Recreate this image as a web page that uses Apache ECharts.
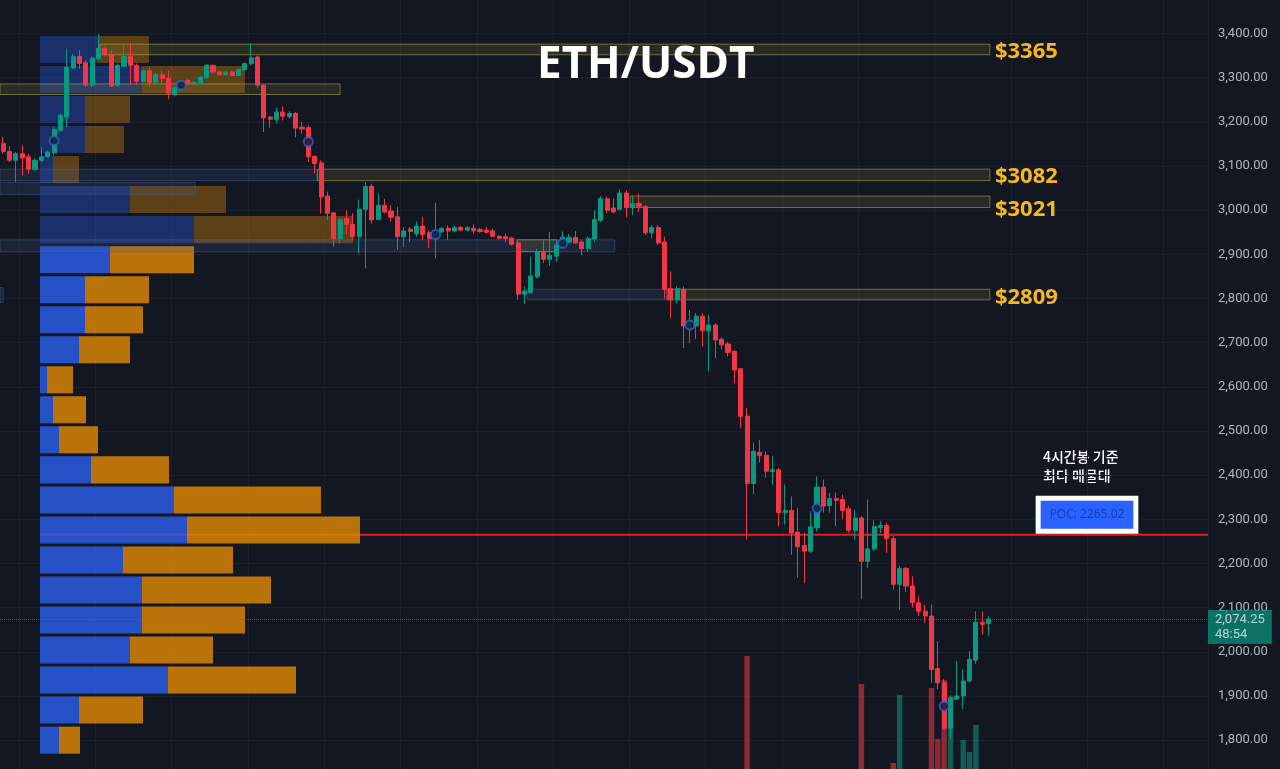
<!DOCTYPE html>
<html>
<head>
<meta charset="utf-8">
<title>ETH/USDT</title>
<script src="https://cdn.jsdelivr.net/npm/echarts@6.0.0/dist/echarts.min.js"></script>
<style>
  html, body { margin: 0; padding: 0; background: #131722; }
  #chart { width: 1280px; height: 769px; }
</style>
</head>
<body>
<div id="chart"></div>
<script>
// ---- data ----
var pair = 'ETH/USDT'
var slotCount = 190 // bar slots on screen (incl. empty space on the right)

// [open, close, low, high]
var candles = [
  [3151,3133,3128,3166],[3133,3113,3109,3145],[3113,3128,3064,3132],[3128,3118,3079,3147],[3121,3093,3082,3128],
  [3092,3113,3090,3118],[3113,3121,3109,3143],[3121,3132,3119,3135],[3130,3183,3124,3188],[3181,3215,3177,3219],
  [3211,3324,3188,3366],[3322,3348,3320,3354],[3348,3332,3320,3362],[3334,3283,3279,3339],[3283,3344,3279,3348],
  [3343,3366,3339,3399],[3366,3352,3348,3369],[3352,3281,3279,3362],[3283,3328,3280,3332],[3326,3348,3324,3377],
  [3348,3328,3283,3380],[3328,3292,3283,3332],[3292,3316,3289,3321],[3316,3290,3279,3324],[3290,3307,3287,3312],
  [3307,3298,3286,3316],[3299,3265,3252,3316],[3262,3277,3258,3280],[3276,3287,3270,3290],[3294,3286,3283,3298],
  [3286,3290,3284,3292],[3288,3301,3285,3304],[3300,3328,3298,3331],[3328,3313,3310,3330],[3313,3307,3305,3315],
  [3307,3313,3305,3316],[3313,3305,3303,3316],[3305,3319,3303,3321],[3318,3332,3316,3334],[3332,3345,3328,3378],
  [3347,3283,3276,3350],[3283,3209,3177,3285],[3211,3206,3187,3213],[3205,3222,3196,3232],[3222,3213,3203,3235],
  [3212,3219,3208,3224],[3219,3186,3165,3222],[3188,3184,3173,3200],[3187,3121,3109,3192],[3122,3106,3083,3124],
  [3107,3030,2993,3113],[3032,2993,2978,3042],[2994,2936,2917,2996],[2936,2979,2925,2982],[2981,2968,2947,3000],
  [2968,2940,2932,2993],[2940,3002,2902,3024],[3002,3054,2868,3064],[3054,2978,2970,3060],[2979,3011,2977,3038],
  [3011,2996,2993,3026],[2998,2984,2974,3011],[2985,2940,2910,3008],[2940,2953,2917,2962],[2957,2952,2928,2962],
  [2947,2964,2940,2974],[2964,2945,2932,2985],[2949,2936,2914,2955],[2940,2950,2891,3017],[2951,2959,2948,2962],
  [2959,2953,2932,2966],[2953,2961,2950,2965],[2961,2955,2952,2964],[2955,2961,2952,2964],[2959,2953,2947,2968],
  [2956,2952,2949,2960],[2955,2950,2947,2962],[2953,2941,2940,2958],[2941,2936,2934,2943],[2940,2936,2928,2947],
  [2937,2923,2920,2940],[2926,2810,2797,2932],[2810,2817,2788,2827],[2813,2851,2812,2895],[2849,2905,2846,2913],
  [2904,2889,2880,2932],[2889,2898,2874,2951],[2896,2921,2883,2932],[2921,2939,2916,2952],[2928,2938,2925,2946],
  [2938,2926,2925,2953],[2928,2913,2898,2932],[2913,2936,2906,2941],[2935,2979,2928,3000],[2977,3026,2973,3032],
  [3026,3000,2993,3031],[3005,2996,2993,3026],[3002,3039,3000,3047],[3039,3006,2984,3045],[3008,3015,2989,3034],
  [3015,3009,2996,3038],[3008,2949,2944,3011],[2949,2961,2936,2966],[2961,2926,2921,2966],[2928,2821,2800,2940],
  [2823,2797,2755,2861],[2797,2823,2789,2828],[2821,2738,2688,2827],[2733,2747,2699,2774],[2738,2760,2708,2767],
  [2760,2727,2691,2767],[2727,2740,2635,2763],[2740,2706,2665,2744],[2708,2695,2685,2712],[2697,2678,2669,2702],
  [2680,2638,2608,2684],[2641,2533,2507,2642],[2534,2381,2254,2552],[2381,2454,2356,2474],[2452,2444,2428,2480],
  [2445,2409,2394,2454],[2408,2412,2378,2443],[2412,2315,2284,2416],[2315,2320,2288,2379],[2320,2269,2220,2352],
  [2271,2238,2168,2326],[2241,2228,2156,2269],[2228,2283,2224,2318],[2281,2373,2273,2397],[2373,2330,2315,2390],
  [2331,2347,2315,2360],[2347,2343,2284,2361],[2345,2320,2300,2356],[2324,2275,2269,2330],[2275,2303,2254,2322],
  [2303,2205,2119,2307],[2205,2233,2190,2345],[2233,2284,2228,2299],[2281,2286,2269,2296],[2286,2256,2224,2293],
  [2256,2153,2141,2262],[2153,2189,2095,2194],[2189,2149,2135,2192],[2149,2111,2100,2171],[2111,2092,2081,2126],
  [2092,2081,2066,2107],[2081,1960,1930,2107],[1962,1930,1915,2024],[1930,1827,1824,1938],[1827,1897,1802,1902],
  [1893,1900,1891,1979],[1900,1934,1870,1960],[1934,1983,1930,2002],[1981,2067,1972,2092],[2067,2062,2039,2092],
  [2064,2074.25,2036,2081]
]

// volume (K)
var volumes = [
  45,40,52,38,55,42,35,40,70,66,
  110,60,48,75,72,58,44,80,62,50,
  70,55,40,52,38,35,60,42,38,30,
  28,32,50,40,30,28,30,35,40,45,
  88,105,50,45,38,36,62,40,75,48,
  112,80,95,70,50,55,85,100,92,60,
  40,42,70,38,30,34,40,44,55,30,
  28,26,24,25,26,24,26,30,28,27,
  34,118,60,70,82,50,48,45,40,38,
  36,42,40,72,85,56,38,66,60,42,
  38,78,40,62,120,96,55,110,70,62,
  75,90,66,48,55,95,125,244,118,80,
  72,60,112,70,98,92,76,100,110,80,
  56,50,64,85,70,216,96,88,52,84,
  137,205,90,80,74,68,212,161,220,202,
  120,160,148,175,60,40
]

// signal circles
var signalIdx = [8, 28, 48, 68, 88, 108, 128, 148]
var signalPrice = [3157, 3283, 3155, 2945, 2925, 2740, 2325, 1877]

// volume profile (rows from bottom), up = blue, down = orange
var vpBinStart = 1766
var vpBinSize = 68
var vpUp =   [19,39,128,90,102,102,83,147,134,51,19,13,7,39,45,45,70,154,90,13,45,45,102,58]
var vpDown = [21,64,128,83,103,129,110,173,147,78,39,33,26,51,58,64,84,159,96,26,39,45,103,51]
var vpValueAreaTop = 16 // rows above this are outside the value area
var pocPrice = 2265.02

var lastPrice = 2074.25
var barCountdown = '48:54'

// zones: bar index from/to, price low/high
var zoneFrom = [15.2, -0.5, -0.5, 49.4, -0.5, 98.6, -0.5, 80.8, -0.5, 82.4, 104.4]
var zoneTo   = [155.2, 53.0, 49.4, 155.2, 30.2, 155.2, 96.2, 87.1, 0, 104.4, 155.2]
var zoneLow  = [3352, 3262, 3067, 3067, 3036, 3006, 2906, 2906, 2791, 2797, 2797]
var zoneHigh = [3376, 3286, 3093, 3093, 3063, 3032, 2933, 2933, 2825, 2821, 2821]
var zoneKind = ['supply','supply','base','supply','base','supply','base','supply','base','base','supply']
var zoneLabel = ['$3365','','','$3082','','$3021','','','','','$2809']

var noteLines = ['4시간봉 기준', '최다 매물대']

// ---- chart ----
var UP = '#089981'
var DOWN = '#f23645'
var GRIDLINE = '#1c202b'
var priceGrid = { left: 0, right: 72, top: -10.6, bottom: -15.3, outerBoundsMode: 'none' }

var slots = []
for (var s = 0; s < slotCount; s++) slots.push(String(s))

var zoneStyle = {
  supply: { fill: 'rgba(160,150,60,0.16)', stroke: 'rgba(200,185,80,0.5)' },
  base: { fill: 'rgba(70,100,160,0.18)', stroke: 'rgba(80,110,170,0.4)' },
}

function labelY(i, api) {
  var y = api.coord([0, parseFloat(zoneLabel[i].slice(1))])[1] + 3
  for (var j = i - 1; j >= 0; j--) {
    if (zoneLabel[j]) {
      var py = labelY(j, api)
      if (y - py < 33) y = py + 33
      break
    }
  }
  return y
}

var myChart = echarts.init(document.getElementById('chart'))
myChart.setOption({
  backgroundColor: '#131722',
  animation: false,
  title: {
    text: pair,
    left: 532,
    top: 38,
    textStyle: { color: '#ffffff', fontSize: 44, fontWeight: 'bold', fontFamily: 'Open Sans' },
  },
  graphic: noteLines.map(function (t, i) {
    return {
      type: 'text',
      left: 1043,
      top: 450 + i * 19,
      style: { text: t, fill: '#ffffff', font: '500 14px "Noto Sans CJK KR"' },
    }
  }),
  grid: [
    priceGrid,
    { left: 0, right: 72, top: 500, bottom: -131, outerBoundsMode: 'none' },
    { left: 40, right: 72, top: priceGrid.top, bottom: priceGrid.bottom, outerBoundsMode: 'none' },
  ],
  xAxis: [
    {
      type: 'category', gridIndex: 0, data: slots,
      axisLine: { show: false }, axisTick: { show: false }, axisLabel: { show: false },
      splitLine: { show: true, interval: function (i) { return i % 12 === 3 }, lineStyle: { color: GRIDLINE } },
    },
    {
      type: 'category', gridIndex: 1, data: slots,
      axisLine: { show: false }, axisTick: { show: false }, axisLabel: { show: false }, splitLine: { show: false },
    },
    { type: 'value', gridIndex: 0, position: 'top', min: -0.5, max: slotCount - 0.5, show: false },
    { type: 'value', gridIndex: 2, min: 0, max: 1168, show: false },
  ],
  yAxis: [
    {
      type: 'value', gridIndex: 0, position: 'right', min: 1700, max: 3500, interval: 100,
      axisLine: { show: false }, axisTick: { show: false },
      axisLabel: {
        margin: 10, color: '#b2b5be', fontSize: 13, fontFamily: 'Roboto',
        formatter: function (v) { return v.toLocaleString('en-US', { minimumFractionDigits: 2, maximumFractionDigits: 2 }) },
      },
      splitLine: { show: true, lineStyle: { color: GRIDLINE } },
    },
    { type: 'value', gridIndex: 1, min: 0, max: 400, show: false },
    { type: 'value', gridIndex: 2, min: 1700, max: 3500, show: false },
  ],
  series: [
    {
      // POC line
      type: 'line', xAxisIndex: 3, yAxisIndex: 2, z: 1,
      symbol: 'none', silent: true,
      lineStyle: { color: '#e01b22', width: 2 },
      data: [[0, pocPrice], [1168, pocPrice]],
      markPoint: {
        symbol: 'triangle', symbolSize: [10, 6], symbolRotate: 180, symbolOffset: [0, -3],
        itemStyle: { color: '#2962ff' },
        data: [{ coord: [1047, pocPrice] }],
        label: {
          show: true, position: 'top', distance: 0,
          formatter: 'POC: ' + pocPrice.toFixed(2),
          color: '#1c3ba6', fontSize: 12, fontFamily: 'Open Sans', lineHeight: 14,
          backgroundColor: '#2962ff', borderColor: '#ffffff', borderWidth: 5, padding: [7, 9],
        },
      },
    },
    {
      // volume profile
      type: 'custom', xAxisIndex: 3, yAxisIndex: 2, z: 2, silent: true,
      data: vpUp.map(function (u, i) { return [u, vpDown[i], vpBinStart + i * vpBinSize] }),
      renderItem: function (params, api) {
        var up = api.value(0), dn = api.value(1), lo = api.value(2)
        var a = api.coord([0, lo + vpBinSize])
        var b = api.coord([up, lo])
        var c = api.coord([up + dn, lo])
        var top = a[1] + 1.5
        var h = b[1] - a[1] - 3
        var op = params.dataIndex > vpValueAreaTop ? 0.35 : 0.8
        return {
          type: 'group',
          children: [
            { type: 'rect', shape: { x: a[0], y: top, width: b[0] - a[0], height: h }, style: { fill: '#2b5ff0', opacity: op } },
            { type: 'rect', shape: { x: b[0], y: top, width: c[0] - b[0], height: h }, style: { fill: '#e58b03', opacity: op } },
          ],
        }
      },
    },
    {
      // zones
      type: 'custom', xAxisIndex: 2, yAxisIndex: 0, z: 3, silent: true,
      data: zoneFrom.map(function (f, i) { return [f, zoneTo[i], zoneLow[i], zoneHigh[i]] }),
      encode: { x: [0, 1], y: [2, 3] },
      renderItem: function (params, api) {
        var i = params.dataIndex
        var p0 = api.coord([api.value(0), api.value(3)])
        var p1 = api.coord([api.value(1), api.value(2)])
        var st = zoneStyle[zoneKind[i]]
        var children = [
          {
            type: 'rect',
            shape: { x: p0[0], y: p0[1], width: p1[0] - p0[0], height: p1[1] - p0[1] },
            style: { fill: st.fill, stroke: st.stroke, lineWidth: 1 },
          },
        ]
        if (zoneLabel[i]) {
          children.push({
            type: 'text',
            x: p1[0] + 5,
            y: labelY(i, api),
            style: {
              text: zoneLabel[i], fill: '#f6b81c',
              font: 'bold 22px "Open Sans"', verticalAlign: 'middle', align: 'left',
            },
          })
        }
        return { type: 'group', children: children }
      },
    },
    {
      type: 'candlestick', xAxisIndex: 0, yAxisIndex: 0, z: 4,
      barWidth: '72%',
      itemStyle: { color: UP, color0: DOWN, borderColor: UP, borderColor0: DOWN, borderWidth: 1 },
      data: candles,
      markLine: {
        silent: true,
        symbol: ['none', 'none'],
        data: [{ yAxis: lastPrice }],
        lineStyle: { color: UP, type: 'dotted', width: 1, opacity: 0.7 },
        label: {
          position: 'end', distance: 0,
          formatter: lastPrice.toLocaleString('en-US', { minimumFractionDigits: 2 }) + '\n' + barCountdown,
          color: '#ffffff', fontSize: 13, fontFamily: 'Roboto', lineHeight: 15,
          backgroundColor: UP, padding: [2, 7, 2, 7], offset: [0, 8],
        },
      },
    },
    {
      type: 'scatter', xAxisIndex: 0, yAxisIndex: 0, z: 5, silent: true,
      symbol: 'circle', symbolSize: 9,
      itemStyle: { color: '#131722', borderColor: '#2f5fe0', borderWidth: 2 },
      data: signalIdx.map(function (x, i) { return [x, signalPrice[i]] }),
    },
    {
      type: 'bar', xAxisIndex: 1, yAxisIndex: 1, z: 1, silent: true,
      barWidth: '85%',
      data: volumes.map(function (v, i) {
        var c = candles[i]
        return { value: v, itemStyle: { color: c[1] >= c[0] ? UP : DOWN, opacity: 0.55 } }
      }),
    },
  ],
})
</script>
</body>
</html>
